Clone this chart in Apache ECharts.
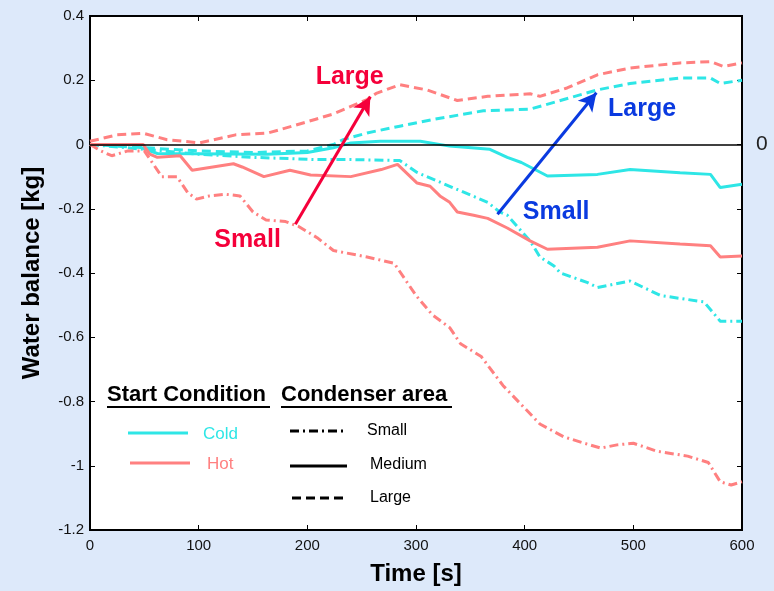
<!DOCTYPE html>
<html>
<head>
<meta charset="utf-8">
<script src="https://cdn.jsdelivr.net/npm/echarts@6/dist/echarts.min.js"></script>
<style>
html,body{margin:0;padding:0;background:#dde9fa;}
#main{width:774px;height:591px;}
</style>
</head>
<body>
<div id="main"></div>
<script>
// axis ranges
var timeRange = [0, 600, 100];
var balanceRange = [-1.2, 0.4, 0.2];

// Cold start (cyan)
var coldSmallT = [0, 50, 100, 150, 209, 240, 285, 301, 331, 366, 377, 384, 405, 414, 427, 433, 458, 467, 497, 525, 565, 580, 600];
var coldSmallV = [0, -0.015, -0.03, -0.04, -0.047, -0.047, -0.05, -0.087, -0.13, -0.18, -0.21, -0.22, -0.30, -0.35, -0.378, -0.40, -0.43, -0.445, -0.425, -0.47, -0.49, -0.55, -0.55];
var coldMediumT = [0, 40, 55, 62, 163, 200, 224, 240, 267, 304, 331, 368, 384, 397, 405, 421, 467, 497, 543, 571, 580, 600];
var coldMediumV = [0, 0, -0.02, -0.028, -0.03, -0.025, -0.01, 0.005, 0.01, 0.01, -0.005, -0.015, -0.04, -0.056, -0.07, -0.098, -0.093, -0.078, -0.088, -0.093, -0.134, -0.124];
var coldLargeT = [0, 50, 100, 150, 200, 224, 233, 255, 285, 316, 362, 405, 436, 467, 497, 543, 571, 580, 600];
var coldLargeV = [0, -0.01, -0.02, -0.025, -0.02, 0, 0.015, 0.036, 0.057, 0.078, 0.105, 0.11, 0.14, 0.17, 0.19, 0.207, 0.207, 0.19, 0.2];

// Hot start (salmon)
var hotSmallT = [0, 10, 20, 35, 50, 58, 66, 80, 90, 98, 110, 125, 138, 150, 162, 180, 192, 209, 224, 255, 280, 300, 315, 331, 341, 360, 380, 397, 414, 436, 455, 470, 485, 500, 522, 550, 569, 580, 590, 600];
var hotSmallV = [0, -0.02, -0.035, -0.02, -0.02, -0.06, -0.1, -0.1, -0.15, -0.17, -0.16, -0.155, -0.16, -0.21, -0.235, -0.24, -0.255, -0.29, -0.33, -0.35, -0.37, -0.47, -0.53, -0.57, -0.62, -0.66, -0.75, -0.81, -0.87, -0.91, -0.93, -0.945, -0.935, -0.93, -0.955, -0.97, -0.99, -1.05, -1.06, -1.05];
var hotMediumT = [0, 49, 55, 62, 83, 94, 132, 140, 160, 184, 203, 240, 268, 283, 301, 313, 322, 331, 338, 353, 366, 384, 405, 421, 467, 497, 543, 571, 580, 600];
var hotMediumV = [0, 0, -0.03, -0.04, -0.035, -0.08, -0.06, -0.07, -0.1, -0.08, -0.095, -0.1, -0.078, -0.062, -0.12, -0.13, -0.16, -0.18, -0.21, -0.22, -0.23, -0.26, -0.30, -0.326, -0.32, -0.30, -0.31, -0.315, -0.35, -0.347];
var hotLargeT = [0, 25, 49, 71, 87, 101, 134, 164, 186, 207, 224, 255, 264, 285, 310, 338, 366, 405, 414, 439, 467, 497, 543, 571, 583, 600];
var hotLargeV = [0.01, 0.03, 0.035, 0.015, 0.01, 0.005, 0.03, 0.036, 0.057, 0.078, 0.095, 0.14, 0.16, 0.186, 0.17, 0.137, 0.15, 0.158, 0.15, 0.176, 0.217, 0.238, 0.254, 0.258, 0.243, 0.254];

// annotation arrows [from, to] in data units, and labels
var hotArrow = [[189, -0.248], [258, 0.149]];
var coldArrow = [[375, -0.217], [466, 0.161]];
var hotLabels = [['Small', 145, -0.298], ['Large', 239, 0.211]];
var coldLabels = [['Small', 429, -0.211], ['Large', 508, 0.109]];

var cyan = '#2ee6e6';
var salmon = '#ff8080';
var red = '#f5003a';
var blue = '#0a3ae0';
var dashDot = [9, 4, 2, 4];
var dashed = [9, 5];
var font = '"Liberation Sans", Arial, sans-serif';

function pairs(t, v) {
    return t.map(function (x, i) { return [x, v[i]]; });
}

function arrowLine(arr, color) {
    return {
        silent: true,
        symbol: ['none', 'arrow'],
        symbolSize: [14, 18],
        label: { show: false },
        lineStyle: { color: color, width: 3, type: 'solid' },
        data: [[{ coord: arr[0] }, { coord: arr[1] }]]
    };
}

function textMarks(list, color) {
    return {
        silent: true,
        symbol: 'circle',
        symbolSize: 0,
        label: {
            show: true, position: 'inside', formatter: '{b}',
            color: color, fontFamily: font, fontWeight: 'bold', fontSize: 25
        },
        data: list.map(function (d) { return { name: d[0], coord: [d[1], d[2]] }; })
    };
}

function lineSeries(name, t, v, color, dash) {
    return {
        name: name,
        type: 'line',
        data: pairs(t, v),
        showSymbol: false,
        symbol: 'none',
        lineStyle: { color: color, width: 3, type: dash },
        z: 3
    };
}

// axis pieces shared by the four sides
function frameAxis(extra) {
    var base = {
        type: 'value',
        axisLine: { show: true, onZero: false, lineStyle: { color: '#000', width: 2 } },
        axisTick: { show: true, inside: true, length: 5, lineStyle: { color: '#000' } },
        splitLine: { show: false }
    };
    for (var k in extra) base[k] = extra[k];
    return base;
}

var myChart = echarts.init(document.getElementById('main'));

var series = [
    lineSeries('Cold Small', coldSmallT, coldSmallV, cyan, dashDot),
    lineSeries('Cold Medium', coldMediumT, coldMediumV, cyan, 'solid'),
    lineSeries('Cold Large', coldLargeT, coldLargeV, cyan, dashed),
    lineSeries('Hot Small', hotSmallT, hotSmallV, salmon, dashDot),
    lineSeries('Hot Medium', hotMediumT, hotMediumV, salmon, 'solid'),
    lineSeries('Hot Large', hotLargeT, hotLargeV, salmon, dashed)
];

// zero line with its "0" label on the right
series[1].markLine = {
    silent: true,
    symbol: 'none',
    lineStyle: { color: '#000', width: 1.5, type: 'solid' },
    label: { show: true, position: 'end', formatter: '0', distance: 14, color: '#222', fontFamily: font, fontSize: 21 },
    data: [{ yAxis: 0 }]
};
series[3].markLine = arrowLine(hotArrow, red);
series[3].markPoint = textMarks(hotLabels, red);
series[0].markLine = arrowLine(coldArrow, blue);
series[0].markPoint = textMarks(coldLabels, blue);

function legendText(text, x, y, color, size, bold) {
    return {
        type: 'text', z: 100,
        style: {
            text: text, x: x, y: y, fill: color,
            font: (bold ? 'bold ' : '') + size + 'px ' + font,
            textVerticalAlign: 'middle', verticalAlign: 'middle'
        }
    };
}
function legendLine(x1, x2, y, color, dash, w) {
    return {
        type: 'line', z: 100,
        shape: { x1: x1, y1: y, x2: x2, y2: y },
        style: { stroke: color, lineWidth: w || 3, lineDash: dash || null }
    };
}

var nameStyle = { fontFamily: font, fontWeight: 'bold', fontSize: 24, color: '#000' };
var tickStyle = { color: '#111', fontFamily: font, fontSize: 15 };

option = {
    backgroundColor: '#dde9fa',
    animation: false,
    grid: {
        left: 90, right: 32, top: 16, bottom: 59,
        show: true, backgroundColor: '#fff', borderColor: '#000', borderWidth: 2
    },
    xAxis: [
        frameAxis({
            min: timeRange[0], max: timeRange[1], interval: timeRange[2],
            name: 'Time [s]', nameLocation: 'middle', nameGap: 32, nameTextStyle: nameStyle,
            axisLabel: Object.assign({ margin: 8 }, tickStyle)
        }),
        frameAxis({
            position: 'top', min: timeRange[0], max: timeRange[1], interval: timeRange[2],
            axisLabel: { show: false }
        })
    ],
    yAxis: [
        frameAxis({
            min: balanceRange[0], max: balanceRange[1], interval: balanceRange[2],
            name: 'Water balance [kg]', nameLocation: 'middle', nameGap: 46, nameTextStyle: nameStyle,
            axisLabel: Object.assign({
                margin: 6,
                formatter: function (v) { return String(+v.toFixed(1)); }
            }, tickStyle)
        }),
        frameAxis({
            position: 'right', min: balanceRange[0], max: balanceRange[1], interval: balanceRange[2],
            axisLabel: { show: false }
        })
    ],
    graphic: [
        legendText('Start Condition', 107, 395, '#000', 22, true),
        legendLine(107, 270, 407, '#000', null, 2),
        legendText('Condenser area', 281, 395, '#000', 22, true),
        legendLine(281, 452, 407, '#000', null, 2),
        legendLine(128, 188, 433, cyan),
        legendText('Cold', 203, 434, cyan, 17),
        legendLine(130, 190, 463, salmon),
        legendText('Hot', 207, 464, salmon, 17),
        legendLine(290, 347, 431, '#000', dashDot),
        legendText('Small', 367, 431, '#000', 16),
        legendLine(290, 347, 466, '#000'),
        legendText('Medium', 370, 465, '#000', 16),
        legendLine(292, 347, 498, '#000', dashed),
        legendText('Large', 370, 498, '#000', 16)
    ],
    series: series
};
myChart.setOption(option);
</script>
</body>
</html>
